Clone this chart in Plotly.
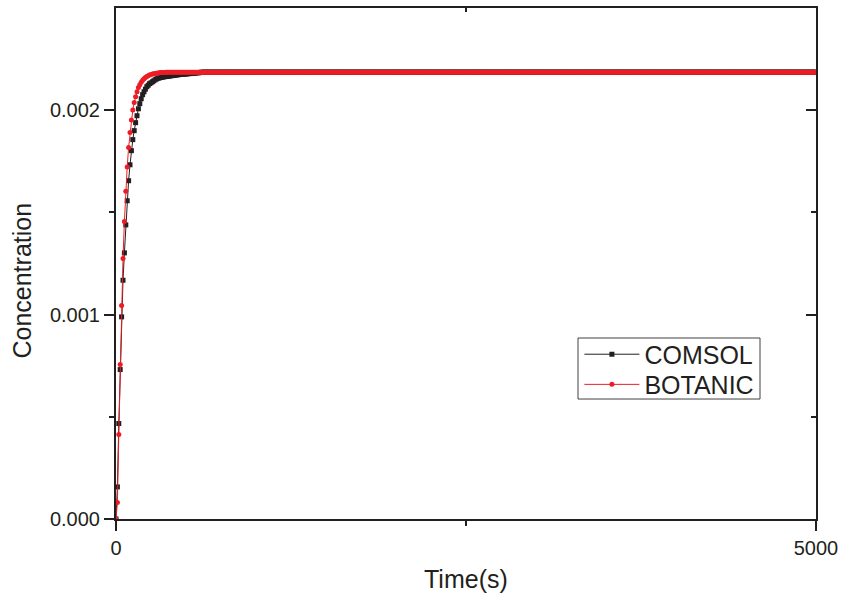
import plotly.graph_objects as go

# ---- data (time step 10 s) ----
time_s = list(range(0, 5001, 10))

comsol_rise = [
    0.0, 0.000157, 0.000467, 0.000731, 0.000989, 0.001168, 0.001302, 0.001439,
    0.001557, 0.001655, 0.001733, 0.001802, 0.001856, 0.001900, 0.001939,
    0.001973, 0.002007, 0.002032, 0.002056, 0.002076, 0.002090, 0.002103,
    0.002115, 0.002122, 0.002130, 0.002134, 0.002139, 0.002144, 0.002149,
    0.002153, 0.002156, 0.002158, 0.002160, 0.002161, 0.002163, 0.002164,
    0.002165, 0.002166, 0.002167, 0.002168, 0.002169, 0.002170, 0.002171,
    0.002172, 0.002173, 0.002174, 0.002175, 0.002176, 0.002176, 0.002177,
    0.002177, 0.002178, 0.002179, 0.002179, 0.002180, 0.002181, 0.002181,
    0.002182, 0.002183, 0.002183, 0.002184,
]
botanic_rise = [
    0.0, 0.000081, 0.000413, 0.000756, 0.001044, 0.001274, 0.001455, 0.001604,
    0.001722, 0.001817, 0.001891, 0.001952, 0.002001, 0.002038, 0.002066,
    0.002090, 0.002111, 0.002125, 0.002137, 0.002147, 0.002154, 0.002160,
    0.002165, 0.002169, 0.002172, 0.002175, 0.002177, 0.002178, 0.002180,
    0.002181, 0.002182, 0.002183, 0.002184, 0.002184, 0.002185, 0.002185,
]
steady_value = 0.002186

comsol = comsol_rise + [steady_value] * (len(time_s) - len(comsol_rise))
botanic = botanic_rise + [steady_value] * (len(time_s) - len(botanic_rise))

x_ticks = [0, 5000]
x_minor = [2500]
y_ticks = [0.0, 0.001, 0.002]
y_ticktext = ["0.000", "0.001", "0.002"]
y_minor = [0.0005, 0.0015]

INK = "#231f20"
RED = "#ed1c24"
FONT = "Liberation Sans, Arial, sans-serif"

fig = go.Figure()
fig.add_trace(go.Scatter(
    x=time_s, y=comsol, name="COMSOL", mode="lines+markers",
    line=dict(color=INK, width=1),
    marker=dict(symbol="square", size=5, color=INK),
    xaxis="x", yaxis="y", legend="legend",
))
fig.add_trace(go.Scatter(
    x=time_s, y=botanic, name="BOTANIC", mode="lines+markers",
    line=dict(color=RED, width=1),
    marker=dict(symbol="circle", size=5, color=RED),
    xaxis="x2", yaxis="y2", legend="legend2",
))

xr = [0, 5000]
yr = [0, 0.0025]
common = dict(showgrid=False, zeroline=False, showline=True, linecolor=INK,
              linewidth=2, tickcolor=INK, tickwidth=2, automargin=False)

leg_common = dict(xanchor="left", yanchor="top", bgcolor="rgba(0,0,0,0)",
                  borderwidth=0, font=dict(size=25, color=INK, family=FONT),
                  itemwidth=55)

fig.update_layout(
    width=841, height=605,
    margin=dict(l=116, r=25, t=8, b=86, autoexpand=False),
    paper_bgcolor="white", plot_bgcolor="white",
    font=dict(family=FONT, color=INK, size=20),
    xaxis=dict(range=xr, tickmode="array", tickvals=x_ticks, ticks="outside",
               ticklen=10, tickfont=dict(size=20),
               minor=dict(tickmode="array", tickvals=x_minor, ticks="outside",
                          ticklen=5, tickwidth=2, tickcolor=INK),
               **common),
    yaxis=dict(range=yr, tickmode="array", tickvals=y_ticks, ticktext=y_ticktext,
               ticks="outside", ticklen=10, tickfont=dict(size=20),
               minor=dict(tickmode="array", tickvals=y_minor, ticks="outside",
                          ticklen=5, tickwidth=2, tickcolor=INK),
               **common),
    xaxis2=dict(range=xr, overlaying="x", anchor="y2", side="top",
                tickmode="array", tickvals=x_ticks, ticks="inside", ticklen=10,
                showticklabels=False,
                minor=dict(tickmode="array", tickvals=x_minor, ticks="inside",
                           ticklen=4, tickwidth=2, tickcolor=INK),
                **common),
    yaxis2=dict(range=yr, overlaying="y", anchor="x2", side="right",
                tickmode="array", tickvals=y_ticks, ticks="inside", ticklen=10,
                showticklabels=False,
                minor=dict(tickmode="array", tickvals=y_minor, ticks="inside",
                           ticklen=5, tickwidth=2, tickcolor=INK),
                **common),
    legend=dict(x=0.662, y=0.367, **leg_common),
    legend2=dict(x=0.662, y=0.308, **leg_common),
    showlegend=True,
    shapes=[
        dict(type="rect", xref="paper", yref="paper", x0=0.66, x1=0.92,
             y0=0.2348, y1=0.3542, line=dict(color="#404040", width=1),
             fillcolor="white", layer="above"),
    ],
    annotations=[
        dict(text="Time(s)", xref="paper", yref="paper", x=0.5, y=-0.117,
             xanchor="center", yanchor="middle", showarrow=False,
             font=dict(size=25, color=INK, family=FONT)),
        dict(text="Concentration", xref="paper", yref="paper", x=-0.134,
             y=0.467, xanchor="center", yanchor="middle", textangle=-90,
             showarrow=False, font=dict(size=25, color=INK, family=FONT)),
    ],
)

fig.write_html("out.html")
